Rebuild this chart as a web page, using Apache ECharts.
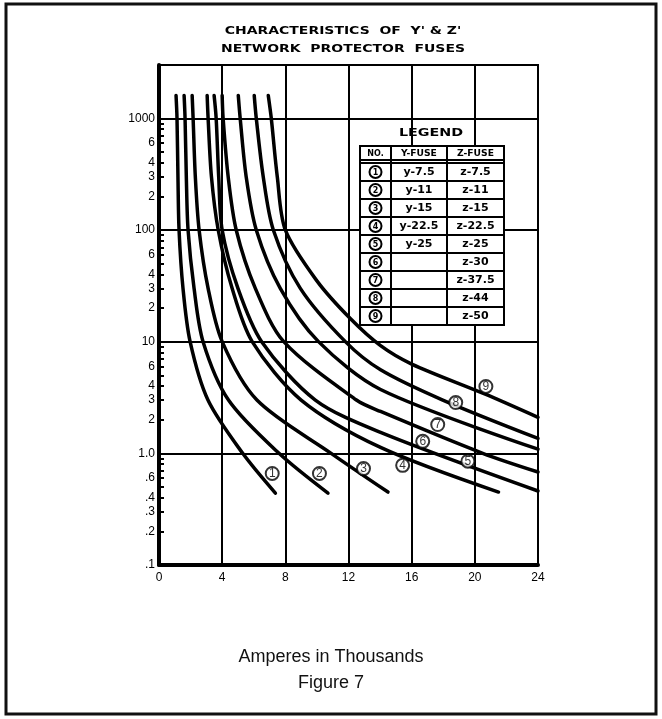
<!DOCTYPE html>
<html>
<head>
<meta charset="utf-8">
<title>Characteristics of Y & Z network protector fuses</title>
<script src="https://cdn.jsdelivr.net/npm/echarts@6/dist/echarts.min.js"></script>
<style>
  html, body { margin: 0; padding: 0; background: #fff; }
  #chart { width: 662px; height: 719px; }
</style>
</head>
<body>
<div id="chart"></div>
<script>
// fuse curves: [thousands of amperes, seconds]
var curve1 = [[1.08,1600],[1.14,1000],[1.2,300],[1.27,100],[1.52,30],[1.97,10],[3.1,3],[5.3,1],[7.37,0.44]]
var curve2 = [[1.59,1600],[1.65,1000],[1.73,300],[1.84,100],[2.22,30],[2.79,10],[4.4,3],[7.6,1],[10.7,0.44]]
var curve3 = [[2.1,1600],[2.16,1000],[2.3,300],[2.54,100],[3.11,30],[4.0,10],[6.2,3],[10.9,1],[14.5,0.45]]
var curve4 = [[3.05,1600],[3.11,1000],[3.32,300],[3.75,100],[4.63,30],[5.9,10],[9.0,3],[14.03,1.13],[21.5,0.45]]
var curve5 = [[3.49,1600],[3.62,1000],[3.78,300],[4.0,100],[5.0,30],[6.5,10],[9.9,3],[14.03,1.54],[24,0.46]]
var curve6 = [[4.0,1600],[4.06,1000],[4.38,300],[4.89,100],[6.1,30],[7.9,10],[12.5,3],[14.03,2.37],[20.5,1.0],[24,0.68]]
var curve7 = [[5.02,1600],[5.14,1000],[5.52,300],[6.16,100],[7.68,30],[10.1,10],[14.03,3.73],[24,1.09]]
var curve8 = [[6.03,1600],[6.16,1000],[6.6,300],[7.24,100],[8.95,30],[11.8,10],[14.03,5.6],[17.97,3.0],[24,1.36]]
var curve9 = [[6.92,1600],[7.11,1000],[7.49,300],[8.0,100],[10.0,35],[12.13,16],[14.03,9.2],[16.0,6.3],[20.7,3.37],[24,2.1]]
var curves = [curve1, curve2, curve3, curve4, curve5, curve6, curve7, curve8, curve9]

// circled number tags beside the curves
var tagNames = ['1','2','3','4','5','6','7','8','9']
var tagPoints = [[7.17,0.66],[10.16,0.66],[12.95,0.73],[15.43,0.78],[19.56,0.85],[16.7,1.28],[17.65,1.81],[18.79,2.85],[20.7,3.97]]

// legend table
var legendY = ['y-7.5','y-11','y-15','y-22.5','y-25','','','','']
var legendZ = ['z-7.5','z-11','z-15','z-22.5','z-25','z-30','z-37.5','z-44','z-50']

// axis ticks
var xTicks = [0, 4, 8, 12, 16, 20, 24]
var yLabelValues = [0.1,0.2,0.3,0.4,0.6,1,2,3,4,6,10,20,30,40,60,100,200,300,400,600,1000]
var yLabelText = ['.1','.2','.3','.4','.6','1.0','2','3','4','6','10','2','3','4','6','100','2','3','4','6','1000']
var decades = [0.1, 1, 10, 100, 1000]

var yMax = 3000
var boldFont = 'bold 11px "DejaVu Sans"'

var yTickLogs = []
decades.forEach(function(d) {
	for (var k = 1; k <= 9; k++) {
		if (d * k <= 1000) yTickLogs.push(Math.log10(d * k))
	}
})
var yLabelLogs = yLabelValues.map(function(v) { return Math.log10(v) })

function yLabel(v) {
	for (var i = 0; i < yLabelLogs.length; i++) {
		if (Math.abs(yLabelLogs[i] - v) < 1e-6) return yLabelText[i]
	}
	return ''
}

var series = curves.map(function(c, i) {
	return {
		name: 'curve' + (i + 1),
		type: 'line',
		yAxisIndex: 0,
		data: c,
		smooth: 0.3,
		symbol: 'none',
		lineStyle: { color: '#000', width: 3.5, cap: 'round' },
		z: 3
	}
})
series.push({
	name: 'tags',
	type: 'scatter',
	yAxisIndex: 0,
	data: tagPoints.map(function(p, i) { return { value: p, name: tagNames[i] } }),
	symbol: 'circle',
	symbolSize: 13,
	itemStyle: { color: '#fff', borderColor: '#000', borderWidth: 2 },
	label: {
		show: true,
		position: 'inside',
		formatter: function(p) { return p.name },
		color: '#000',
		font: 'bold 8px "DejaVu Sans"'
	},
	z: 5
})

// legend table built with graphic elements
var tblX = 360, tblY = 146, colA = 391, colB = 447, tblR = 504, headH = 14, rowTop = 163, rowH = 18
var table = []
function line(x1, y1, x2, y2) {
	table.push({ type: 'line', z: 101, shape: { x1: x1, y1: y1, x2: x2, y2: y2 }, style: { stroke: '#000', lineWidth: 2 } })
}
function text(s, x, y, font, sx) {
	table.push({ type: 'text', z: 102, x: x, y: y, scaleX: sx || 1, style: { text: s, font: font, fill: '#000', align: 'center', verticalAlign: 'middle' } })
}
table.push({ type: 'rect', z: 100, shape: { x: tblX, y: tblY, width: tblR - tblX, height: rowTop + rowH * 9 - tblY }, style: { fill: '#fff', stroke: '#000', lineWidth: 2 } })
line(tblX, tblY + headH, tblR, tblY + headH)
line(tblX, rowTop, tblR, rowTop)
for (var r = 1; r < 9; r++) line(tblX, rowTop + rowH * r, tblR, rowTop + rowH * r)
line(colA, tblY, colA, rowTop + rowH * 9)
line(colB, tblY, colB, rowTop + rowH * 9)
text('LEGEND', 431, 133, 'bold 11px "DejaVu Sans"', 1.3)
text('NO.', (tblX + colA) / 2, tblY + headH / 2 + 1, 'bold 8px "DejaVu Sans"')
text('Y-FUSE', (colA + colB) / 2, tblY + headH / 2 + 1, 'bold 8px "DejaVu Sans"', 1.15)
text('Z-FUSE', (colB + tblR) / 2, tblY + headH / 2 + 1, 'bold 8px "DejaVu Sans"', 1.15)
for (var j = 0; j < 9; j++) {
	var cy = rowTop + rowH * j + rowH / 2
	table.push({ type: 'circle', z: 101, shape: { cx: (tblX + colA) / 2, cy: cy, r: 6 }, style: { fill: '#fff', stroke: '#000', lineWidth: 2 } })
	text(tagNames[j], (tblX + colA) / 2, cy + 0.5, 'bold 8px "DejaVu Sans"')
	text(legendY[j], (colA + colB) / 2, cy + 0.5, 'bold 10px "DejaVu Sans"', 1.1)
	text(legendZ[j], (colB + tblR) / 2, cy + 0.5, 'bold 10px "DejaVu Sans"', 1.1)
}

var option = {
	animation: false,
	backgroundColor: '#fff',
	grid: {
		left: 159,
		right: 124,
		top: 65,
		bottom: 154,
		show: true,
		borderColor: '#000',
		borderWidth: 2
	},
	xAxis: {
		type: 'value',
		min: 0,
		max: 24,
		interval: 4,
		axisLine: { show: true, onZero: false, lineStyle: { color: '#000', width: 4 } },
		axisTick: { show: false },
		axisLabel: { color: '#000', font: boldFont, margin: 7 },
		splitLine: { show: true, lineStyle: { color: '#000', width: 2 } }
	},
	yAxis: [
		{
			type: 'log',
			logBase: 10,
			min: 0.1,
			max: yMax,
			axisLine: { show: false },
			axisTick: { show: false },
			axisLabel: { show: false },
			splitLine: { show: true, lineStyle: { color: '#000', width: 2 } }
		},
		{
			type: 'value',
			position: 'left',
			min: -1,
			max: Math.log10(yMax),
			axisLine: { show: true, lineStyle: { color: '#000', width: 4 } },
			axisTick: { show: true, inside: true, length: 5, customValues: yTickLogs, lineStyle: { color: '#000', width: 2 } },
			axisLabel: { show: true, customValues: yLabelLogs, formatter: yLabel, color: '#000', font: boldFont, margin: 4 },
			splitLine: { show: false }
		}
	],
	series: series,
	graphic: [
		{ type: 'rect', z: 100, shape: { x: 6, y: 4, width: 650, height: 710 }, style: { fill: 'none', stroke: '#111', lineWidth: 3 } },
		{ type: 'text', z: 100, x: 343, y: 31, scaleX: 1.27, style: { text: "CHARACTERISTICS  OF  Y' & Z'", font: 'bold 11px "DejaVu Sans"', fill: '#000', align: 'center', verticalAlign: 'middle' } },
		{ type: 'text', z: 100, x: 343, y: 49, scaleX: 1.27, style: { text: 'NETWORK  PROTECTOR  FUSES', font: 'bold 11px "DejaVu Sans"', fill: '#000', align: 'center', verticalAlign: 'middle' } },
		{ type: 'group', children: table },
		{ type: 'text', z: 100, x: 331, y: 657, style: { text: 'Amperes in Thousands', font: '18px "Liberation Sans"', fill: '#111', align: 'center', verticalAlign: 'middle' } },
		{ type: 'text', z: 100, x: 331, y: 683, style: { text: 'Figure 7', font: '18px "Liberation Sans"', fill: '#111', align: 'center', verticalAlign: 'middle' } }
	]
}

var myChart = echarts.init(document.getElementById('chart'))
myChart.setOption(option)
</script>
</body>
</html>
